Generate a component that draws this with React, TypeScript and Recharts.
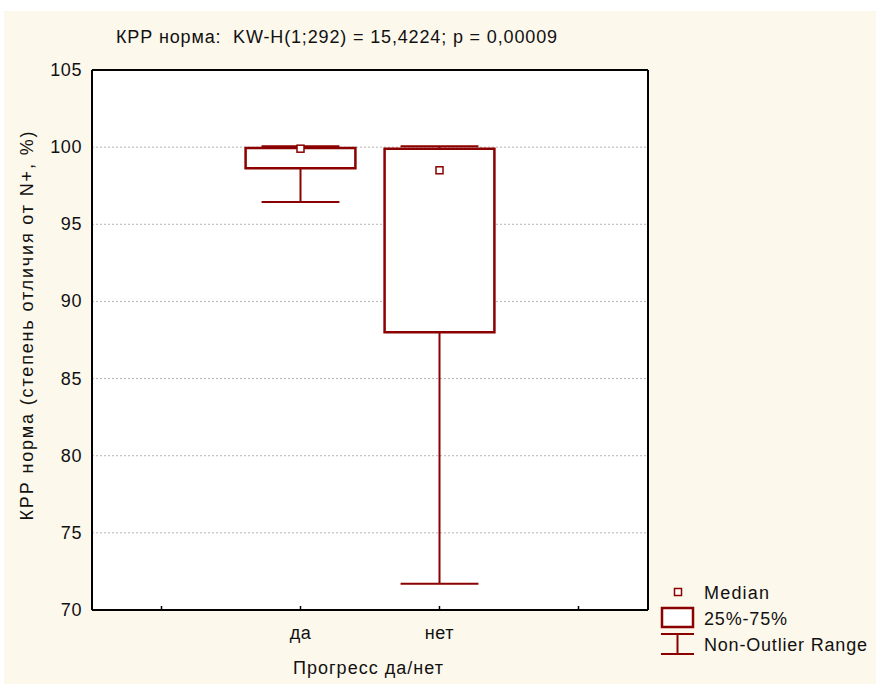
import React from 'react';
import {
  ComposedChart,
  XAxis,
  YAxis,
  CartesianGrid,
  Scatter,
  ReferenceArea,
  ReferenceLine,
} from 'recharts';

// Kruskal-Wallis box plot: КРР норма by progress group
const groups = ['да', 'нет'];
const groupPos = [1, 2];
const medians = [99.9, 98.5];
const q1 = [98.64, 88.0];
const q3 = [99.95, 99.9];
const lowWhisker = [96.45, 71.7];
const highWhisker = [100.05, 100.05];
const yTicks = [70, 75, 80, 85, 90, 95, 100, 105];
const xTicks = [0, 1, 2, 3];

const W = 876;
const H = 684;
const RED = '#8b0000';
const INK = '#111';
const FONT = '"Liberation Sans", Arial, sans-serif';
const BOX_HALF = 0.395;
const CAP_HALF = 0.28;

const medianData = groupPos.map((x, i) => ({ x, y: medians[i] }));

const labelFor = (v: number) => {
  const i = groupPos.indexOf(v);
  return i >= 0 ? groups[i] : '';
};

const BottomTick = (props: any) => {
  const { x, y, payload } = props;
  return (
    <g>
      <line x1={x} x2={x} y1={y} y2={y - 4} stroke="#000" strokeWidth={1.5} />
      <text x={x} y={y + 29} textAnchor="middle" fontSize={18} fill={INK} fontFamily={FONT} letterSpacing={0.6}>
        {labelFor(payload.value)}
      </text>
    </g>
  );
};

const TopTick = (props: any) => {
  const { x, y } = props;
  return <line x1={x} x2={x} y1={y} y2={y + 4} stroke="#000" strokeWidth={1.5} />;
};

const LeftTick = (props: any) => {
  const { x, y, payload } = props;
  return (
    <text x={x} y={y + 6} textAnchor="end" fontSize={18} fill={INK} fontFamily={FONT} letterSpacing={0.6}>
      {payload.value}
    </text>
  );
};

const MedianSquare = (props: any) => {
  const { cx, cy } = props;
  return <rect x={cx - 3.5} y={cy - 3.5} width={7} height={7} fill="#fff" stroke={RED} strokeWidth={1.5} />;
};

const Legend = () => (
  <g fontFamily={FONT} fontSize={18} fill={INK}>
    <rect x={674.5} y={588.5} width={7} height={7} fill="#fff" stroke={RED} strokeWidth={1.5} />
    <text x={704} y={599} textLength={65} lengthAdjust="spacing">Median</text>
    <rect x={662} y={608} width={31} height={19} fill="#fff" stroke={RED} strokeWidth={2.5} />
    <text x={704} y={625} textLength={83} lengthAdjust="spacing">25%-75%</text>
    <line x1={661} x2={694} y1={634} y2={634} stroke={RED} strokeWidth={2} />
    <line x1={661} x2={694} y1={654} y2={654} stroke={RED} strokeWidth={2} />
    <line x1={677.5} x2={677.5} y1={634} y2={654} stroke={RED} strokeWidth={2} />
    <text x={704} y={651} textLength={163} lengthAdjust="spacing">Non-Outlier Range</text>
  </g>
);

export default function App() {
  return (
    <div style={{ position: 'absolute', left: 0, top: 0, width: W, height: H, background: '#fff' }}>
      <div style={{ position: 'absolute', left: 4, top: 11, right: 0, bottom: 0, background: '#fdf8ec' }} />
      <div style={{ position: 'absolute', left: 0, top: 0 }}>
        <ComposedChart width={W} height={H} margin={{ top: 69, right: 227, bottom: 73, left: 32 }}>
          <CartesianGrid
            xAxisId="bottom"
            yAxisId="left"
            vertical={false}
            fill="#fff"
            stroke="#b4b4b4"
            strokeDasharray="2 2"
          />
          <XAxis
            xAxisId="bottom"
            type="number"
            dataKey="x"
            domain={[-0.5, 3.5]}
            ticks={xTicks}
            height={1}
            tickSize={0}
            tickMargin={0}
            tickLine={false}
            tick={<BottomTick />}
            axisLine={{ stroke: '#000', strokeWidth: 2 }}
            allowDataOverflow
          />
          <XAxis
            xAxisId="top"
            orientation="top"
            type="number"
            domain={[-0.5, 3.5]}
            ticks={xTicks}
            height={1}
            tickSize={0}
            tickMargin={0}
            tickLine={false}
            tick={<TopTick />}
            axisLine={{ stroke: '#000', strokeWidth: 2 }}
          />
          <YAxis
            yAxisId="left"
            type="number"
            dataKey="y"
            domain={[70, 105]}
            ticks={yTicks}
            width={60}
            tickSize={0}
            tickMargin={10}
            tickLine={false}
            tick={<LeftTick />}
            axisLine={{ stroke: '#000', strokeWidth: 2 }}
            allowDataOverflow
          />
          <YAxis
            yAxisId="right"
            orientation="right"
            domain={[70, 105]}
            width={1}
            tick={false}
            tickLine={false}
            axisLine={{ stroke: '#000', strokeWidth: 2 }}
          />
          {groupPos.map((x, i) => (
            <ReferenceArea
              key={`box-${i}`}
              xAxisId="bottom"
              yAxisId="left"
              x1={x - BOX_HALF}
              x2={x + BOX_HALF}
              y1={q1[i]}
              y2={q3[i]}
              fill="#fff"
              fillOpacity={1}
              stroke={RED}
              strokeWidth={2.5}
            />
          ))}
          {groupPos.map((x, i) => (
            <React.Fragment key={`wh-${i}`}>
              <ReferenceLine
                xAxisId="bottom"
                yAxisId="left"
                segment={[{ x, y: lowWhisker[i] }, { x, y: q1[i] }]}
                stroke={RED}
                strokeWidth={2}
              />
              <ReferenceLine
                xAxisId="bottom"
                yAxisId="left"
                segment={[{ x, y: q3[i] }, { x, y: highWhisker[i] }]}
                stroke={RED}
                strokeWidth={2}
              />
              <ReferenceLine
                xAxisId="bottom"
                yAxisId="left"
                segment={[{ x: x - CAP_HALF, y: lowWhisker[i] }, { x: x + CAP_HALF, y: lowWhisker[i] }]}
                stroke={RED}
                strokeWidth={2}
              />
              <ReferenceLine
                xAxisId="bottom"
                yAxisId="left"
                segment={[{ x: x - CAP_HALF, y: highWhisker[i] }, { x: x + CAP_HALF, y: highWhisker[i] }]}
                stroke={RED}
                strokeWidth={2}
              />
            </React.Fragment>
          ))}
          <Scatter
            xAxisId="bottom"
            yAxisId="left"
            data={medianData}
            shape={<MedianSquare />}
            isAnimationActive={false}
          />
          <text
            x={116}
            y={43}
            fontSize={18}
            fill={INK}
            fontFamily={FONT}
            textLength={441}
            lengthAdjust="spacing"
            style={{ whiteSpace: 'pre' }}
          >
            КРР норма:  KW-H(1;292) = 15,4224; p = 0,00009
          </text>
          <text
            x={0}
            y={0}
            transform="translate(33, 326) rotate(-90)"
            textAnchor="middle"
            fontSize={18}
            fill={INK}
            fontFamily={FONT}
            textLength={389}
            lengthAdjust="spacing"
          >
            КРР норма (степень отличия от N+, %)
          </text>
          <text
            x={368}
            y={674}
            textAnchor="middle"
            fontSize={18}
            fill={INK}
            fontFamily={FONT}
            textLength={150}
            lengthAdjust="spacing"
          >
            Прогресс да/нет
          </text>
          <Legend />
        </ComposedChart>
      </div>
    </div>
  );
}
